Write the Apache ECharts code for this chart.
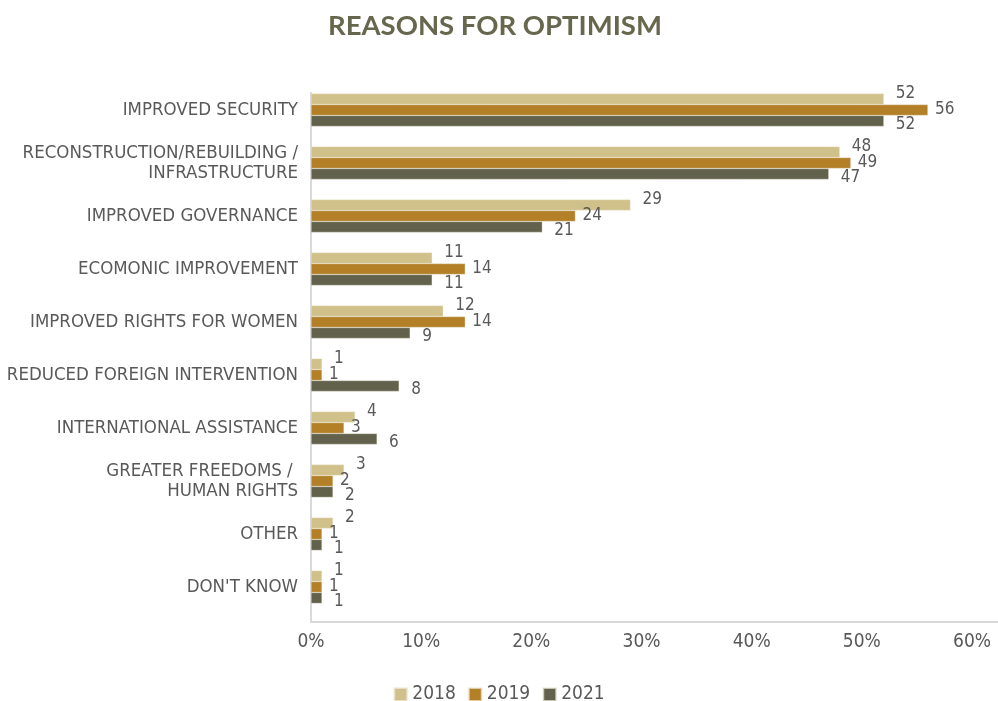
<!DOCTYPE html>
<html>
<head>
<meta charset="utf-8">
<script src="https://cdn.jsdelivr.net/npm/echarts@6/dist/echarts.min.js"></script>
<style>
  html, body { margin: 0; padding: 0; background: #ffffff; }
  #chart { width: 998px; height: 701px; }
</style>
</head>
<body>
<div id="chart"></div>
<script>
// Reasons for optimism, share of respondents (%) by survey year
const categories = [
  'IMPROVED SECURITY',
  'RECONSTRUCTION/REBUILDING /\nINFRASTRUCTURE',
  'IMPROVED GOVERNANCE',
  'ECOMONIC IMPROVEMENT',
  'IMPROVED RIGHTS FOR WOMEN',
  'REDUCED FOREIGN INTERVENTION',
  'INTERNATIONAL ASSISTANCE',
  'GREATER FREEDOMS / \nHUMAN RIGHTS',
  'OTHER',
  "DON'T KNOW"
];
const years = ['2018', '2019', '2021'];
const values2018 = [52, 48, 29, 11, 12, 1, 4, 3, 2, 1];
const values2019 = [56, 49, 24, 14, 14, 1, 3, 2, 1, 1];
const values2021 = [52, 47, 21, 11, 9, 8, 6, 2, 1, 1];
const axisTicks = [0, 10, 20, 30, 40, 50, 60];

const colors = ['#d0c18a', '#b37f27', '#62614b'];
const textGray = '#595959';
const lineGray = '#d9d9d9';
const narrow = "'Liberation Sans Narrow', 'DejaVu Sans Condensed', 'Roboto', sans-serif";

const seriesValues = [values2018, values2019, values2021];
// label nudges so the three values of a group do not collide
const labelOffsets = [[0, -5], [0, 0], [0, 4]];
const labelDistances = [12, 7, 12];

const chart = echarts.init(document.getElementById('chart'), null, { renderer: 'canvas' });

chart.setOption({
  animation: false,
  backgroundColor: '#ffffff',
  color: colors,
  title: {
    text: 'REASONS FOR OPTIMISM',
    left: 323,
    top: 7,
    textStyle: {
      fontFamily: "'Lato', 'Open Sans', sans-serif",
      fontWeight: 'bold',
      fontSize: 27.5,
      color: '#67674d'
    }
  },
  legend: {
    data: years,
    left: 'center',
    top: 680,
    icon: 'rect',
    itemWidth: 13,
    itemHeight: 13,
    itemGap: 12,
    textStyle: { fontFamily: narrow, fontSize: 19, color: textGray }
  },
  grid: [
    { left: 311, right: 26, top: 83.5, bottom: 87.5, outerBoundsMode: 'none', containLabel: false },
    { left: 311, right: 0, top: 93, bottom: 79, outerBoundsMode: 'none', containLabel: false }
  ],
  xAxis: [
    {
      type: 'value',
      gridIndex: 0,
      min: axisTicks[0],
      max: axisTicks[axisTicks.length - 1],
      interval: axisTicks[1] - axisTicks[0],
      axisLine: { show: false },
      axisTick: { show: false },
      splitLine: { show: false },
      axisLabel: {
        formatter: '{value}%',
        margin: 19,
        fontFamily: narrow,
        fontSize: 19,
        color: textGray
      }
    },
    {
      // frame along the bottom of the plot
      type: 'value',
      gridIndex: 1,
      min: 0,
      max: 1,
      axisLine: { show: true, onZero: false, lineStyle: { color: lineGray, width: 2 } },
      axisTick: { show: false },
      splitLine: { show: false },
      axisLabel: { show: false }
    }
  ],
  yAxis: [
    {
      type: 'category',
      gridIndex: 0,
      data: categories,
      inverse: true,
      axisLine: { show: false },
      axisTick: { show: false },
      splitLine: { show: false },
      axisLabel: {
        margin: 13,
        fontFamily: narrow,
        fontSize: 18.5,
        lineHeight: 20,
        color: textGray,
        align: 'right'
      }
    },
    {
      // frame along the left of the plot
      type: 'value',
      gridIndex: 1,
      min: 0,
      max: 1,
      axisLine: { show: true, onZero: false, lineStyle: { color: lineGray, width: 2 } },
      axisTick: { show: false },
      splitLine: { show: false },
      axisLabel: { show: false }
    }
  ],
  series: years.map((year, i) => ({
    name: year,
    type: 'bar',
    xAxisIndex: 0,
    yAxisIndex: 0,
    data: seriesValues[i],
    barGap: '0%',
    barCategoryGap: '38%',
    itemStyle: { color: colors[i], borderColor: 'rgba(240,235,220,0.7)', borderWidth: 0.5 },
    label: {
      show: true,
      position: 'right',
      distance: labelDistances[i],
      offset: labelOffsets[i],
      fontFamily: narrow,
      fontSize: 17,
      color: textGray
    }
  }))
});
</script>
</body>
</html>
